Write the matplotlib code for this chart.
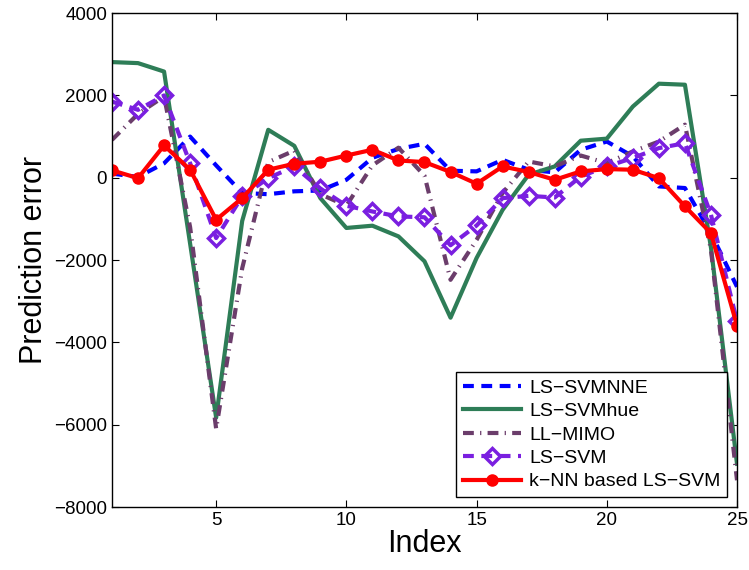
import matplotlib
matplotlib.use("Agg")
import matplotlib.pyplot as plt

plt.rcParams["font.family"] = ["Liberation Sans", "DejaVu Sans"]

# prediction errors per test index
index = list(range(1, 26))
ls_svmnne = [100, 20, 350, 1000, 300, -370, -400, -330, -310, -50, 485, 700, 825,
             170, 155, 435, 195, 130, 680, 880, 520, -210, -250, -1345, -2650]
ls_svmhue = [2810, 2785, 2580, -1600, -5830, -1050, 1165, 775, -495, -1220, -1165,
             -1425, -2030, -3400, -1950, -780, 75, 275, 900, 950, 1730, 2285, 2260,
             -1700, -6950]
ll_mimo = [920, 1550, 1975, -1200, -6100, -2200, 380, 660, -400, -680, 300, 730, 50,
           -2480, -1510, -370, 395, 275, 540, 355, 640, 880, 1290, -1750, -7350]
ls_svm = [1850, 1650, 2000, 355, -1465, -455, -10, 275, -260, -680, -820, -940, -960,
          -1640, -1160, -495, -440, -480, 30, 275, 480, 720, 840, -900, -3490]
knn_ls_svm = [180, -10, 785, 195, -1020, -495, 195, 340, 390, 540, 680, 420, 380,
              140, -145, 275, 140, -50, 155, 210, 195, -10, -695, -1345, -3595]

BLUE = "#0000FF"
GREEN = "#2E7D57"
PLUM = "#6B3D6B"
VIOLET = "#7A1FE0"
RED = "#FF0000"

fig = plt.figure(figsize=(7.49, 5.70), dpi=100)
ax = fig.add_axes([0.1495, 0.1105, 0.8345, 0.8665])

ax.plot(index, ls_svmnne, color=BLUE, lw=3, dashes=(2.6, 1.8), label="LS\u2212SVMNNE")
ax.plot(index, ls_svmhue, color=GREEN, lw=3, label="LS\u2212SVMhue")
ax.plot(index, ll_mimo, color=PLUM, lw=3, dashes=(2.6, 1.5, 0.3, 1.5), label="LL\u2212MIMO")
ax.plot(index, ls_svm, color=VIOLET, lw=3, dashes=(2.6, 1.8), marker="D", markersize=8,
        fillstyle="none", markeredgewidth=2.5, label="LS\u2212SVM")
ax.plot(index, knn_ls_svm, color=RED, lw=3, marker="o", markersize=8,
        label="k\u2212NN based LS\u2212SVM")

ax.set_xlim(1, 25)
ax.set_ylim(-8000, 4000)
ax.set_xticks([5, 10, 15, 20, 25])
ax.set_yticks(range(-8000, 4001, 2000))
ax.tick_params(direction="in", top=True, right=True, length=5, labelsize=13.5)
for s in ax.spines.values():
    s.set_linewidth(1)

ax.set_xlabel("Index", fontsize=22, labelpad=0)
ax.set_ylabel("Prediction error", fontsize=22, labelpad=4)

leg = ax.legend(loc="lower right", fontsize=14, numpoints=1, handlelength=3.0,
                fancybox=False, framealpha=1, edgecolor="black",
                borderaxespad=0.5, labelspacing=0.3, handletextpad=0.4,
                borderpad=0.35)
leg.get_frame().set_linewidth(1)

fig.savefig("out.png", dpi=100)
